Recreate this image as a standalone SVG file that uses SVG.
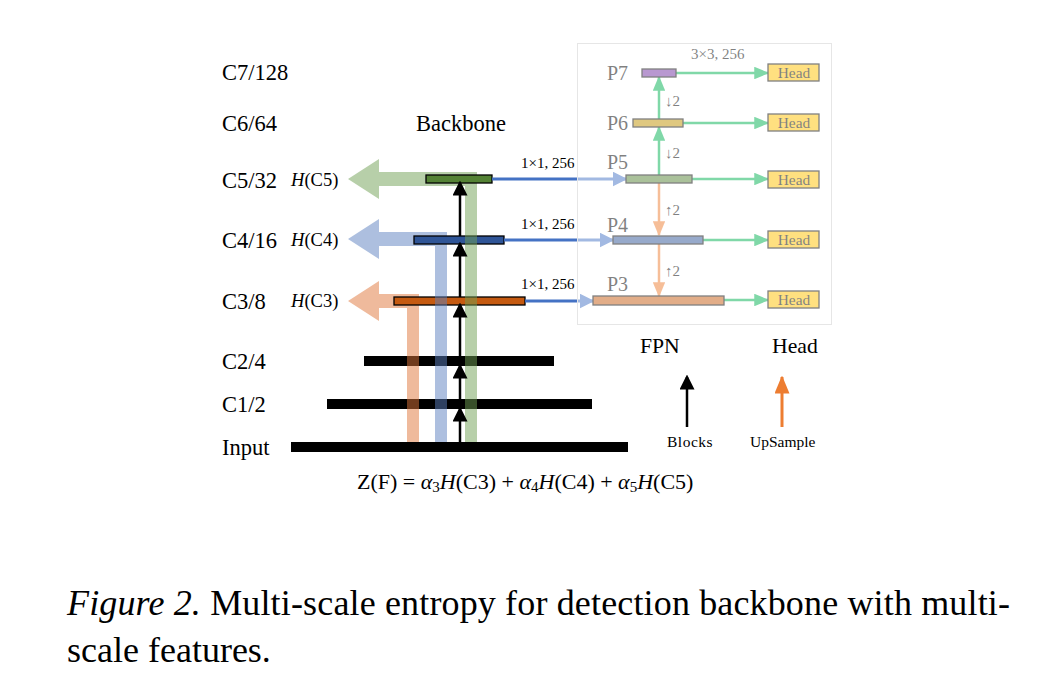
<svg xmlns="http://www.w3.org/2000/svg" width="1044" height="687" viewBox="0 0 1044 687">
<style>
text{font-family:"Liberation Serif","Times New Roman",serif;fill:#000}
.lbl{font-size:22.5px}
.h{font-size:18.5px}
.sm{font-size:15px}
.hd{font-size:15.4px}
.pl{font-size:20px}
.bar{fill:#000}
.blk{stroke:#000;stroke-width:2.5;fill:none}
.grn{stroke:#00b050;stroke-width:2.5;fill:none}
.org{stroke:#ed7d31;stroke-width:2.5;fill:none}
.bl{stroke:#4472c4;stroke-width:3;fill:none}
.box{stroke:#000;stroke-width:1.3}
.head{fill:#ffc000;stroke:#000;stroke-width:1.3}
</style>
<defs>
<marker id="ab" markerWidth="6" markerHeight="6" refX="5" refY="3" orient="auto" markerUnits="strokeWidth"><path d="M0,0 L6,3 L0,6 z" fill="#000"/></marker>
<marker id="ag" markerWidth="6" markerHeight="5" refX="5.5" refY="2.5" orient="auto" markerUnits="strokeWidth"><path d="M0,0 L6,2.5 L0,5 z" fill="#00b050"/></marker>
<marker id="ao" markerWidth="6" markerHeight="5" refX="5.5" refY="2.5" orient="auto" markerUnits="strokeWidth"><path d="M0,0 L6,2.5 L0,5 z" fill="#ed7d31"/></marker>
<marker id="abl" markerWidth="5" markerHeight="5" refX="4.5" refY="2.5" orient="auto" markerUnits="strokeWidth"><path d="M0,0 L5,2.5 L0,5 z" fill="#4472c4"/></marker>
</defs>

<g id="level-labels">
<text class="lbl" x="222" y="80">C7/128</text>
<text class="lbl" x="222" y="131">C6/64</text>
<text class="lbl" x="222" y="188">C5/32</text>
<text class="lbl" x="222" y="248">C4/16</text>
<text class="lbl" x="222" y="309">C3/8</text>
<text class="lbl" x="222" y="369">C2/4</text>
<text class="lbl" x="222" y="412">C1/2</text>
<text class="lbl" x="222" y="455">Input</text>
<text class="lbl" x="416" y="131">Backbone</text>
</g>

<g id="backbone-bars">
<rect class="bar" x="291" y="442" width="337" height="10"/>
<rect class="bar" x="327" y="399" width="265" height="10"/>
<rect class="bar" x="364" y="356" width="190" height="10"/>
</g>

<g id="entropy-C3">
<path d="M348,301 L379,281 L379,294 L419,294 L419,442 L407,442 L407,308 L379,308 L379,321 z" fill="#e0753a" opacity="0.5"/>
<rect class="box" x="394" y="297" width="131" height="8" fill="#c55a11"/>
<text class="h" x="291" y="307"><tspan font-style="italic">H</tspan>(C3)</text>
</g>
<g id="entropy-C4">
<path d="M348,239 L379,219 L379,232 L447,232 L447,442 L435,442 L435,246 L379,246 L379,259 z" fill="#5b7fbf" opacity="0.5"/>
<rect class="box" x="414" y="236" width="90" height="8" fill="#2f5597"/>
<text class="h" x="291" y="246"><tspan font-style="italic">H</tspan>(C4)</text>
</g>
<g id="entropy-C5">
<path d="M348,179 L379,159 L379,172 L477,172 L477,442 L465,442 L465,186 L379,186 L379,199 z" fill="#70a054" opacity="0.5"/>
<rect class="box" x="426" y="175" width="66" height="8" fill="#548235"/>
<text class="h" x="291" y="186"><tspan font-style="italic">H</tspan>(C5)</text>
</g>

<g id="connectors">
<line class="blk" x1="460" y1="442" x2="460" y2="409" marker-end="url(#ab)"/>
<line class="blk" x1="460" y1="399" x2="460" y2="366" marker-end="url(#ab)"/>
<line class="blk" x1="460" y1="356" x2="460" y2="305" marker-end="url(#ab)"/>
<line class="blk" x1="460" y1="297" x2="460" y2="244" marker-end="url(#ab)"/>
<line class="blk" x1="460" y1="236" x2="460" y2="183" marker-end="url(#ab)"/>
<line class="bl" x1="492" y1="179" x2="626" y2="179" marker-end="url(#abl)"/>
<line class="bl" x1="504" y1="240" x2="613" y2="240" marker-end="url(#abl)"/>
<line class="bl" x1="525" y1="301" x2="593" y2="301" marker-end="url(#abl)"/>
<line class="grn" x1="659" y1="119" x2="659" y2="77" marker-end="url(#ag)"/>
<line class="grn" x1="659" y1="175" x2="659" y2="127" marker-end="url(#ag)"/>
<line class="org" x1="659" y1="183" x2="659" y2="235" marker-end="url(#ao)"/>
<line class="org" x1="659" y1="244" x2="659" y2="296" marker-end="url(#ao)"/>
<line class="grn" x1="676" y1="73" x2="768" y2="73" marker-end="url(#ag)"/>
<line class="grn" x1="683" y1="123" x2="768" y2="123" marker-end="url(#ag)"/>
<line class="grn" x1="692" y1="179" x2="768" y2="179" marker-end="url(#ag)"/>
<line class="grn" x1="703" y1="240" x2="768" y2="240" marker-end="url(#ag)"/>
<line class="grn" x1="724" y1="300" x2="768" y2="300" marker-end="url(#ag)"/>
</g>

<g id="conv-labels">
<text class="sm" x="521" y="168">1×1, 256</text>
<text class="sm" x="521" y="229">1×1, 256</text>
<text class="sm" x="521" y="289">1×1, 256</text>
</g>

<g id="fpn">
<rect id="P7" class="box" x="642" y="69" width="34" height="8" fill="#7030a0"/>
<rect id="P6" class="box" x="633" y="119" width="50" height="8" fill="#bf9000"/>
<rect id="P5" class="box" x="626" y="175" width="66" height="8" fill="#548235"/>
<rect id="P4" class="box" x="613" y="236" width="90" height="8" fill="#2f5597"/>
<rect id="P3" class="box" x="593" y="296" width="131" height="9" fill="#c55a11"/>
<text class="pl" x="607" y="80">P7</text>
<text class="pl" x="607" y="130">P6</text>
<text class="pl" x="607" y="169">P5</text>
<text class="pl" x="607" y="232">P4</text>
<text class="pl" x="607" y="291">P3</text>
<text class="sm" x="691" y="59">3×3, 256</text>
<text class="sm" x="665" y="106">↓2</text>
<text class="sm" x="665" y="158">↓2</text>
<text class="sm" x="665" y="215">↑2</text>
<text class="sm" x="665" y="276">↑2</text>
<g id="heads">
<rect class="head" x="768" y="64" width="51" height="17"/>
<rect class="head" x="768" y="114" width="51" height="17"/>
<rect class="head" x="768" y="171" width="51" height="17"/>
<rect class="head" x="768" y="231" width="51" height="17"/>
<rect class="head" x="768" y="291" width="51" height="17"/>
<text class="hd" x="794" y="78" text-anchor="middle">Head</text>
<text class="hd" x="794" y="128" text-anchor="middle">Head</text>
<text class="hd" x="794" y="185" text-anchor="middle">Head</text>
<text class="hd" x="794" y="245" text-anchor="middle">Head</text>
<text class="hd" x="794" y="305" text-anchor="middle">Head</text>
</g>
<rect x="577.5" y="43.5" width="254" height="281" fill="#fff" fill-opacity="0.5" stroke="#e6e6e6" stroke-width="1"/>
</g>

<g id="legend">
<text x="640" y="353" font-size="21.7">FPN</text>
<text x="772" y="353" font-size="21.7">Head</text>
<line class="blk" x1="687" y1="427" x2="687" y2="377" stroke-width="3" marker-end="url(#ab)"/>
<line x1="782" y1="427" x2="782" y2="377" stroke="#ed7d31" stroke-width="3" marker-end="url(#ao)"/>
<text x="667" y="447" font-size="15.5" letter-spacing="0.5">Blocks</text>
<text x="750" y="447" font-size="15.5">UpSample</text>
</g>

<g id="formula">
<text x="357" y="489" font-size="22">Z(F) = <tspan font-style="italic">α</tspan><tspan font-size="15" dy="3">3</tspan><tspan dy="-3" font-style="italic">H</tspan>(C3) + <tspan font-style="italic">α</tspan><tspan font-size="15" dy="3">4</tspan><tspan dy="-3" font-style="italic">H</tspan>(C4) + <tspan font-style="italic">α</tspan><tspan font-size="15" dy="3">5</tspan><tspan dy="-3" font-style="italic">H</tspan>(C5)</text>
</g>

<g id="caption">
<text x="67" y="615" font-size="36" textLength="943" lengthAdjust="spacing"><tspan font-style="italic">Figure 2.</tspan> Multi-scale entropy for detection backbone with multi-</text>
<text x="67" y="662" font-size="36">scale features.</text>
</g>
</svg>
